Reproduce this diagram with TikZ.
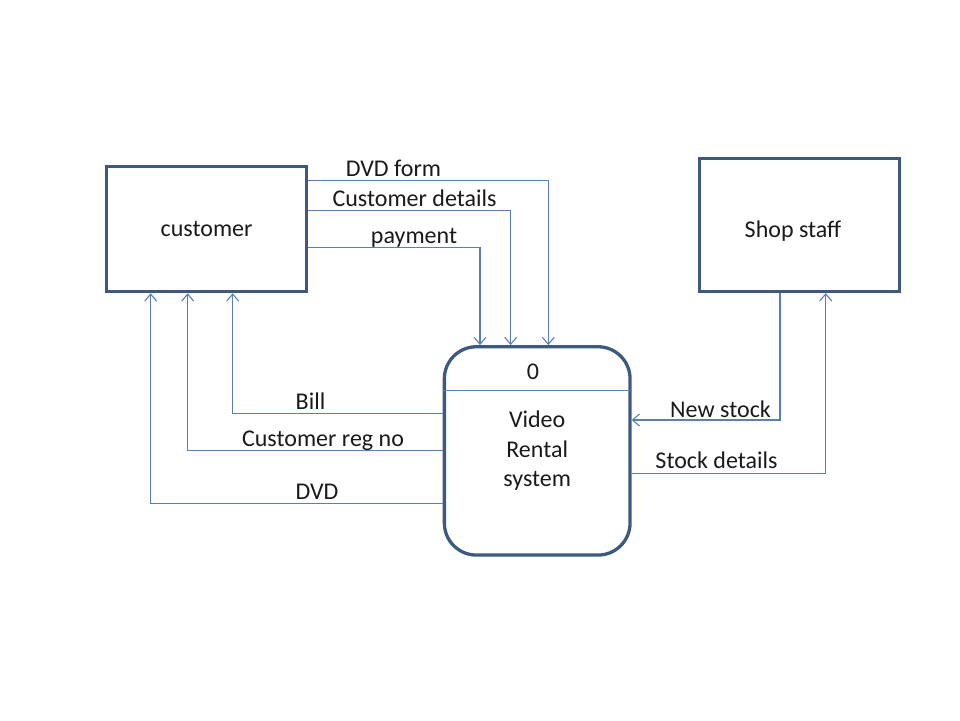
\documentclass[tikz,border=0pt]{standalone}
\usepackage{fontspec}
\setmainfont{Carlito}
\usetikzlibrary{arrows.meta}
\definecolor{boxline}{HTML}{3D5A7E}
\definecolor{flowline}{HTML}{5B80B0}
\definecolor{txt}{HTML}{1A1A1A}
\begin{document}
\begin{tikzpicture}[x=1pt,y=-1pt,
  font=\fontsize{24}{29.5}\selectfont,
  entity/.style={draw=boxline, line width=3.3pt, minimum width=200pt, minimum height=125pt, inner sep=0pt, text=txt},
  procbox/.style={draw=boxline, line width=3.3pt, rounded corners=32pt, minimum width=185.7pt, minimum height=208.3pt, inner sep=0pt, align=center, text=txt},
  flow/.style={draw=flowline, line width=1.1pt, -{Straight Barb[length=7pt,width=12pt]}},
  divider/.style={draw=flowline, line width=1.1pt},
  lbl/.style={anchor=base, text=txt, inner sep=0pt}]
\useasboundingbox (0,0) rectangle (960,720);

\node[entity] (cust) at (206.6,229.1) {customer};
\node[entity, minimum height=133pt,
  label={[name=stafftext, text=txt, inner sep=0pt, xshift=-6.5pt, yshift=-6pt]center:Shop staff}] (staff) at (799.5,225) {};
\node[procbox] (proc) at (537.2,450.9) {Video\\Rental\\system};
\node[text=txt, inner sep=0pt] (zero) at (533,371.5) {0};
\coordinate (dv) at (0,390.7);
\draw[divider] (proc.west |- dv) -- (proc.east |- dv);

% customer -> process
\coordinate (b1) at (548.3,180.7);
\coordinate (b2) at (510.7,210.7);
\coordinate (b3) at (480.0,247.3);
\draw[flow] (cust.east |- b1) -- (b1) -- (proc.north -| b1);
\draw[flow] (cust.east |- b2) -- (b2) -- (proc.north -| b2);
\draw[flow] (cust.east |- b3) -- (b3) -- (proc.north -| b3);
\node[lbl] (l1) at (393.5,176.7) {DVD form};
\node[lbl] (l2) at (414.5,206.7) {Customer details};
\node[lbl] (l3) at (414,243.3) {payment};

% process -> customer
\coordinate (b4) at (232.7,413.3);
\coordinate (b5) at (187.7,450.7);
\coordinate (b6) at (150.7,503.3);
\draw[flow] (proc.west |- b4) -- (b4) -- (cust.south -| b4);
\draw[flow] (proc.west |- b5) -- (b5) -- (cust.south -| b5);
\draw[flow] (proc.west |- b6) -- (b6) -- (cust.south -| b6);
\node[lbl] (l4) at (310.5,409.3) {Bill};
\node[lbl] (l5) at (323,446.7) {Customer reg no};
\node[lbl] (l6) at (317,499.3) {DVD};

% staff <-> process
\coordinate (b7) at (780,420);
\coordinate (b8) at (825.7,473.3);
\draw[flow] (staff.south -| b7) -- (b7) -- (proc.east |- b7);
\draw[flow] (proc.east |- b8) -- (b8) -- (staff.south -| b8);
\node[lbl] (l7) at (720.5,417.3) {New stock};
\node[lbl] (l8) at (716.5,468.3) {Stock details};
\end{tikzpicture}
\end{document}
